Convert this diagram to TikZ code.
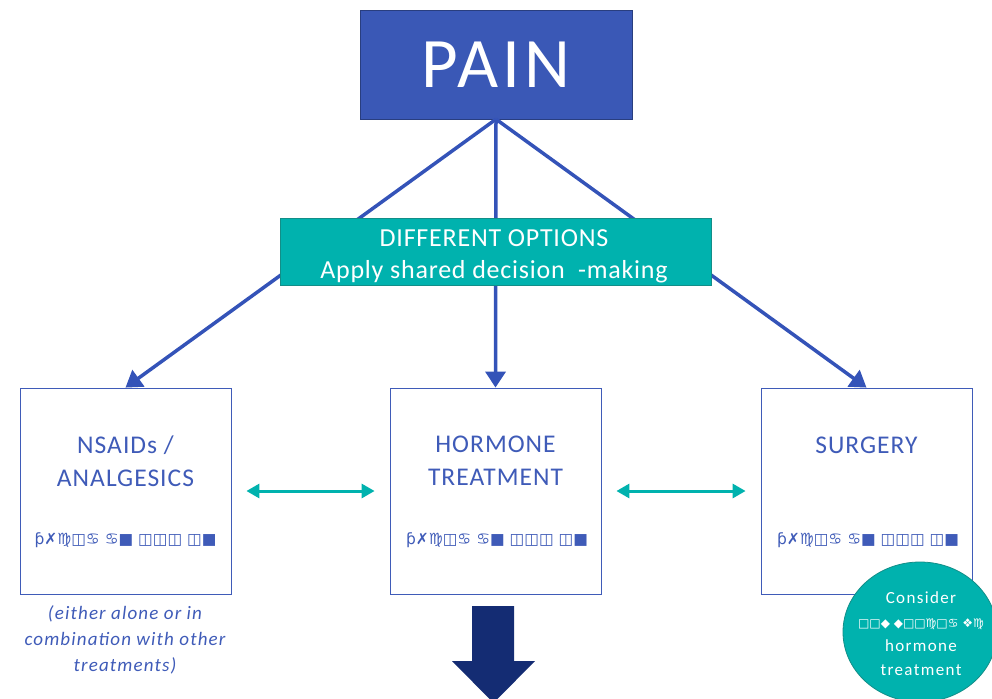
\documentclass[tikz,border=0pt]{standalone}
\usepackage{fontspec}
\setmainfont{Carlito}
\newfontfamily\symfont{DejaVu Sans}
\usepackage{tikz}
\usetikzlibrary{arrows.meta,shapes.geometric}

\definecolor{painblue}{HTML}{3A58B6}
\definecolor{lineblue}{HTML}{3453B8}
\definecolor{txtblue}{HTML}{3F5BB8}
\definecolor{teal2}{HTML}{00B2AE}
\definecolor{tealdark}{HTML}{128E88}
\definecolor{navy}{HTML}{142C73}

\tikzset{
  optbox/.style={draw=txtblue, line width=0.8pt, fill=white, minimum width=211pt, minimum height=206pt, inner sep=0pt},
  opttxt/.style={text=txtblue, align=center, font=\fontsize{25.5}{33}\selectfont\addfontfeatures{LetterSpace=4}},
  glyphs/.style={text=txtblue, font=\symfont\fontsize{15.5}{20}\selectfont},
  branch/.style={draw=lineblue, line width=3.5pt, -{Triangle[length=16pt,width=20pt]}},
  twoway/.style={draw=teal2, line width=3pt, {Triangle[length=13pt,width=14pt]}-{Triangle[length=13pt,width=14pt]}, shorten <=15pt, shorten >=15pt}
}

\begin{document}
\begin{tikzpicture}[x=1pt,y=-1pt]
\useasboundingbox (0,0) rectangle (992,698);

\node[fill=painblue, draw=painblue!70!black, minimum width=272pt, minimum height=109pt, text=white,
  font=\fontsize{71}{76}\selectfont\addfontfeatures{LetterSpace=6}] (pain) at (496,64.5) {PAIN};

\node[optbox] (nsaid) at (125.5,491) {};
\node[optbox] (hormone) at (495.5,491) {};
\node[optbox] (surgery) at (866.5,491) {};

% three branches, behind the options box
\draw[branch] (pain.south) -- (nsaid.north);
\draw[branch] (pain.south) -- (hormone.north);
\draw[branch] (pain.south) -- (surgery.north);

\node[fill=teal2, draw=tealdark, line width=0.8pt, minimum width=431pt, minimum height=67pt, text=white, align=center,
  font=\fontsize{26}{32}\selectfont\addfontfeatures{LetterSpace=3}] (options) at (495.5,251.5) {};
\node[text=white, align=center, font=\fontsize{26}{32}\selectfont\addfontfeatures{LetterSpace=3}] (optionstxt) at (494,256)
  {DIFFERENT OPTIONS\\Apply shared decision\ \ -making};

\node[opttxt] (nsaidtxt) at (125.5,461) {NSAIDs /\\ANALGESICS};
\node[opttxt] (hormonetxt) at (495.5,461) {HORMONE\\TREATMENT};
\node[opttxt] (surgerytxt) at (866.5,445) {SURGERY};

\node[glyphs] (nsaidsym) at (125.5,540) {ƥ✗♍◫♋ ♋■ ◫◫◫ ◫■};
\node[glyphs] (hormonesym) at (497,540) {ƥ✗♍◫♋ ♋■ ◫◫◫ ◫■};
\node[glyphs] (surgerysym) at (868,540) {ƥ✗♍◫♋ ♋■ ◫◫◫ ◫■};

\draw[twoway] (nsaid) -- (hormone);
\draw[twoway] (hormone) -- (surgery);

\node[text=txtblue, align=center, font=\itshape\fontsize{19}{26}\selectfont\addfontfeatures{LetterSpace=6}] (note) at (125,640)
  {(either alone or in\\combination with other\\treatments)};

\node[ellipse, fill=teal2, draw=tealdark, line width=0.8pt, minimum width=154pt, minimum height=140pt] (consider) at (920,632) {};
\node[text=white, align=center, font=\fontsize{17}{24}\selectfont\addfontfeatures{LetterSpace=8}] (considertxt) at (921,634)
  {Consider\\{\symfont\fontsize{12}{24}\selectfont □□◆ ◆□□♍□♋ ❖♍}\\hormone\\treatment};

% big arrow at the bottom
\fill[navy] (472,606) -- (514,606) -- (514,661) -- (535,661) -- (493.5,703) -- (452,661) -- (472,661) -- cycle;
\end{tikzpicture}
\end{document}
